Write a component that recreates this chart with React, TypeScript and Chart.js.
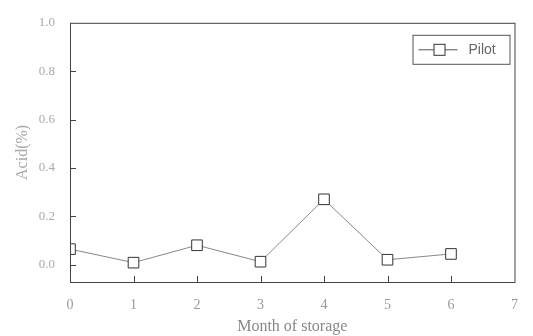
import React, { useEffect, useRef } from "react";
import { Chart, registerables } from "chart.js";

Chart.register(...registerables);

const months = [0, 1, 2, 3, 4, 5, 6];
const pilotAcid = [0.064, 0.008, 0.08, 0.012, 0.27, 0.02, 0.044];
const yTickValues = [0, 0.2, 0.4, 0.6, 0.8, 1.0];
const xTickValues = [0, 1, 2, 3, 4, 5, 6, 7];
const seriesName = "Pilot";
const xTitle = "Month of storage";
const yTitle = "Acid(%)";

const frameAndTicks = {
  id: "frameAndTicks",
  afterDraw(chart: any) {
    const { ctx, chartArea } = chart;
    const xs = chart.scales.x;
    const ys = chart.scales.y;
    ctx.save();
    ctx.strokeStyle = "#444";
    ctx.lineWidth = 1;
    ctx.strokeRect(chartArea.left + 0.5, chartArea.top + 0.5, chartArea.right - chartArea.left, chartArea.bottom - chartArea.top);
    ctx.beginPath();
    for (const v of yTickValues) {
      const y = Math.round(ys.getPixelForValue(v)) + 0.5;
      if (v === 1.0) continue;
      ctx.moveTo(chartArea.left, y);
      ctx.lineTo(chartArea.left + 6, y);
    }
    for (const v of xTickValues) {
      if (v === 0 || v === 7) continue;
      const x = Math.round(xs.getPixelForValue(v)) + 0.5;
      ctx.moveTo(x, chartArea.bottom);
      ctx.lineTo(x, chartArea.bottom - 6);
    }
    ctx.stroke();

    // legend box
    const bx = chartArea.right - 102;
    const by = chartArea.top + 12;
    const bw = 97;
    const bh = 29;
    ctx.strokeStyle = "#555";
    ctx.strokeRect(bx + 0.5, by + 0.5, bw, bh);
    const ly = by + bh / 2 + 0.5;
    ctx.strokeStyle = "#555";
    ctx.beginPath();
    ctx.moveTo(bx + 6, ly);
    ctx.lineTo(bx + 45, ly);
    ctx.stroke();
    ctx.fillStyle = "#fff";
    ctx.fillRect(bx + 21.5, ly - 5.5, 11, 11);
    ctx.strokeStyle = "#333";
    ctx.strokeRect(bx + 21.5, ly - 5.5, 11, 11);
    ctx.fillStyle = "#666";
    ctx.font = "14px 'Liberation Sans', Arial, sans-serif";
    ctx.textBaseline = "middle";
    ctx.textAlign = "left";
    ctx.fillText(seriesName, bx + 56, ly);
    ctx.restore();
  },
};

export default function App() {
  const ref = useRef<HTMLCanvasElement | null>(null);
  useEffect(() => {
    if (!ref.current) return;
    const serif = "'Liberation Serif', 'DejaVu Serif', serif";
    const chart = new Chart(ref.current, {
      type: "line",
      data: {
        datasets: [
          {
            label: seriesName,
            data: months.map((m, i) => ({ x: m, y: pilotAcid[i] })),
            borderColor: "#888",
            borderWidth: 1,
            pointStyle: "rect",
            pointRadius: 7.5,
            pointBackgroundColor: "#fff",
            pointBorderColor: "#333",
            pointBorderWidth: 1,
            tension: 0,
          },
        ],
      },
      options: {
        animation: false,
        responsive: true,
        maintainAspectRatio: false,
        layout: { padding: { top: 15, right: 18, left: 0, bottom: 0 } },
        plugins: { legend: { display: false }, tooltip: { enabled: false } },
        scales: {
          x: {
            type: "linear",
            min: 0,
            max: 7,
            afterBuildTicks: (s: any) => {
              s.ticks = xTickValues.map((v) => ({ value: v }));
            },
            afterFit: (s: any) => {
              s.height = 54;
            },
            grid: { display: false, drawTicks: false },
            border: { display: false },
            ticks: { color: "#999", font: { family: serif, size: 14 }, padding: 15, maxRotation: 0 },
            title: { display: true, text: xTitle, color: "#888", font: { family: serif, size: 16 }, padding: { top: 1, bottom: 0 } },
          },
          y: {
            type: "linear",
            min: -0.072,
            max: 1.0,
            afterBuildTicks: (s: any) => {
              s.ticks = yTickValues.map((v) => ({ value: v }));
            },
            afterFit: (s: any) => {
              s.width = 70;
            },
            grid: { display: false, drawTicks: false },
            border: { display: false },
            ticks: {
              color: "#aaa",
              font: { family: serif, size: 13 },
              padding: 15,
              callback: (v: any) => Number(v).toFixed(1),
            },
            title: { display: true, text: yTitle, color: "#aaa", font: { family: serif, size: 16 }, padding: { top: 13, bottom: 6 } },
          },
        },
      },
      plugins: [frameAndTicks],
    });
    return () => chart.destroy();
  }, []);
  return (
    <div style={{ position: "fixed", left: 0, top: 0, width: 533, height: 336, background: "#fff" }}>
      <canvas ref={ref} />
    </div>
  );
}
